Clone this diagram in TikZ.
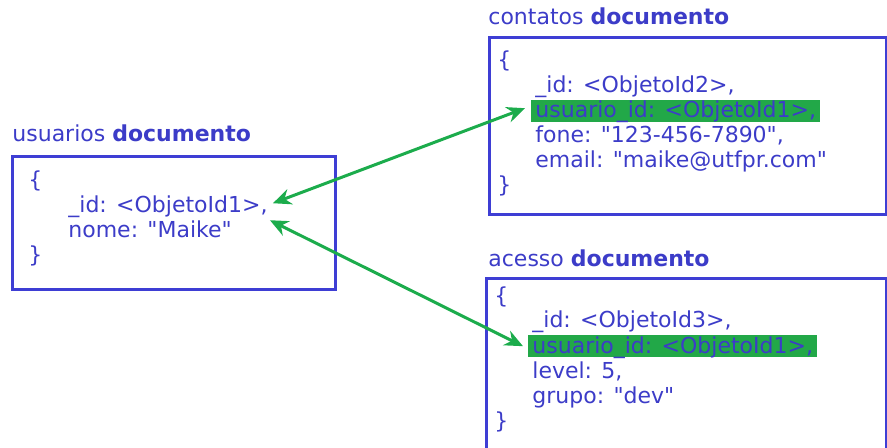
\documentclass[tikz,border=0pt]{standalone}
\usepackage{fontspec}
\setmainfont{DejaVu Sans}[Ligatures=TeXOff]
\usepackage{xcolor}
\usetikzlibrary{positioning, arrows.meta}
\definecolor{docblue}{RGB}{60,60,200}
\definecolor{boxblue}{RGB}{62,62,212}
\definecolor{linkgreen}{RGB}{28,172,76}
\definecolor{markgreen}{RGB}{34,168,72}

\begin{document}
\begin{tikzpicture}[x=0.5pt, y=-0.5pt,
    codeline/.style={anchor=base west, inner sep=0pt, text=docblue, font=\fontsize{11}{12}\selectfont},
    marked/.style={codeline, fill=markgreen, inner xsep=2pt, inner ysep=0.6pt, text height=8.4pt, text depth=1.6pt},
    docbox/.style={draw=boxblue, line width=1.5pt},
    link/.style={{Stealth[length=3.2mm, width=2.8mm]}-{Stealth[length=3.2mm, width=2.8mm]}, draw=linkgreen, line width=1.5pt}
]
\useasboundingbox (0,0) rectangle (887,448);

\node[codeline] (usuarios) at (12,142) {usuarios \textbf{documento}};
\draw[docbox] (12,157) rectangle (335,290);
\node[codeline] (uopen) at (28,188) {\{};
\node[codeline] (uid) at (68,213) {\_id: <ObjetoId1>,};
\node[codeline] (unome) at (68,238) {nome: "Maike"};
\node[codeline] (uclose) at (28,263) {\}};

\node[codeline] (contatos) at (488,25) {contatos \textbf{documento}};
\draw[docbox] (489,38) rectangle (886,215);
\node[codeline] (copen) at (497,68) {\{};
\node[codeline] (cid) at (535,93) {\_id: <ObjetoId2>,};
\node[marked] (cuid) at (531,118) {usuario\_id: <ObjetoId1>,};
\node[codeline] (cfone) at (535,143) {fone: "123-456-7890",};
\node[codeline] (cemail) at (535,168) {email: "maike@utfpr.com"};
\node[codeline] (cclose) at (497,193) {\}};

\node[codeline] (acesso) at (488,267) {acesso \textbf{documento}};
\draw[docbox] (486,279) rectangle (886,470);
\node[codeline] (aopen) at (494,303) {\{};
\node[codeline] (aid) at (532,328) {\_id: <ObjetoId3>,};
\node[marked] (auid) at (528,353) {usuario\_id: <ObjetoId1>,};
\node[codeline] (alevel) at (532,378) {level: 5,};
\node[codeline] (agrupo) at (532,403) {grupo: "dev"};
\node[codeline] (aclose) at (494,428) {\}};

\draw[link] ([xshift=-3pt, yshift=1.5pt]cuid.west) -- ([xshift=2.5pt, yshift=2pt]uid.east);
\draw[link] ([xshift=1pt, yshift=-6.5pt]uid.east) -- ([xshift=-2.5pt]auid.west);

\end{tikzpicture}
\end{document}
